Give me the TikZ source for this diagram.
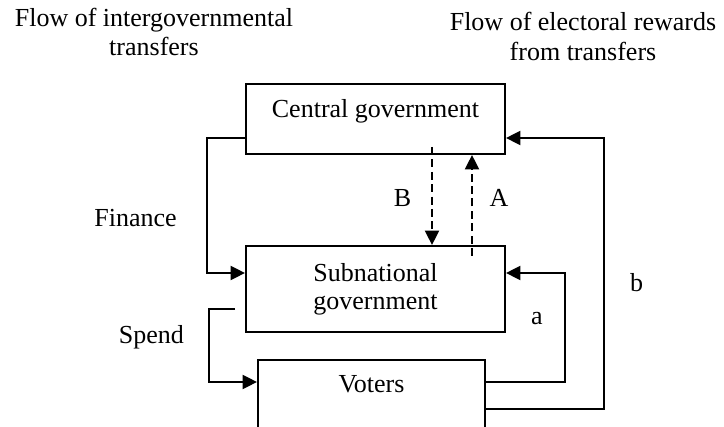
\documentclass[tikz,border=0pt]{standalone}
\usepackage{fontspec}
\setmainfont{Liberation Serif}
\usetikzlibrary{arrows.meta}
\begin{document}
\begin{tikzpicture}[x=0.5pt,y=-0.5pt,
  every node/.style={font=\fontsize{13}{14}\selectfont, inner sep=0pt},
  box/.style={draw, line width=1pt, minimum width=129.5pt},
  conn/.style={line width=1pt},
  arr/.style={conn, -{Triangle[length=7.2pt,width=7pt]}},
  dsh/.style={dash pattern=on 4pt off 2.2pt},
  lbl/.style={anchor=base}
]
\clip (0,0) rectangle (724,427);
\fill[white] (0,0) rectangle (724,427);

% titles
\node[lbl] (t1a) at (154,27) {Flow of intergovernmental};
\node[lbl] (t1b) at (154,56) {transfers};
\node[lbl] (t2a) at (583,31) {Flow of electoral rewards};
\node[lbl] (t2b) at (583,61) {from transfers};

% boxes
\node[box, minimum height=35pt, text height=9pt, text depth=10pt] (central) at (375.5,119) {Central government};
\node[box, minimum height=43pt, align=center] (sub) at (375.5,289) {Subnational\\government};
\node[draw, line width=1pt, anchor=north, minimum width=113.5pt, minimum height=45.5pt, text height=9pt, text depth=21.5pt] (voters) at (371.5,359) {Voters};

% labels
\node[lbl] (fin) at (135.5,227) {Finance};
\node[lbl] (spend) at (151.5,344) {Spend};
\node[lbl] (lB) at (402.5,207) {B};
\node[lbl] (lA) at (499,207) {A};
\node[lbl] (la) at (537,325) {a};
\node[lbl] (lb) at (636.5,292) {b};

% connectors
\draw[arr] (central.west |- 0,138) -- (207,138) |- (sub.west |- 0,273);
\coordinate (spendstart) at (235,309);
\draw[arr] (spendstart) -- (209,309) |- (voters.west |- 0,382);
\draw[arr] (voters.east |- 0,382) -| (565,273) -- (sub.east |- 0,273);
\draw[arr] (voters.east |- 0,409) -| (604,138) -- (central.east |- 0,138);

\coordinate (bstart) at (432,147);
\coordinate (astart) at (472,256);
\draw[arr, dsh] (bstart) -- (bstart |- sub.north);
\draw[arr, dsh] (astart) -- (astart |- central.south);
\end{tikzpicture}
\end{document}
